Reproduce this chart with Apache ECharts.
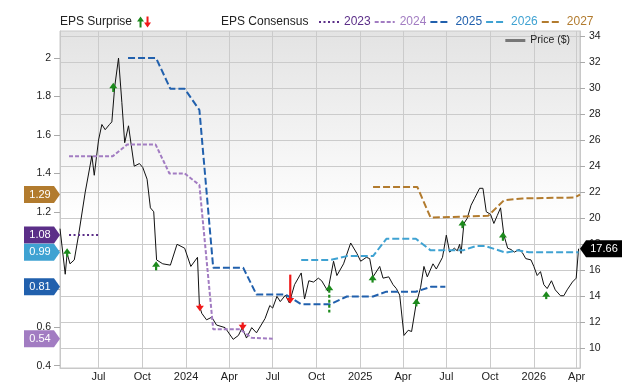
<!DOCTYPE html>
<html><head><meta charset="utf-8">
<script src="https://cdn.jsdelivr.net/npm/echarts@6/dist/echarts.min.js"></script>
<style>html,body{margin:0;padding:0;background:#fff}#c{width:640px;height:382px}</style>
</head><body><div id="c"></div>
<script>
// ---------- data ----------
const xMin = '2023-04-11', xMax = '2026-04-08';
const xTickDates = ['2023-07-01','2023-10-01','2024-01-01','2024-04-01','2024-07-01','2024-10-01','2025-01-01','2025-04-01','2025-07-01','2025-10-01','2026-01-01','2026-04-01'];
const monthNames = ['Jan','Feb','Mar','Apr','May','Jun','Jul','Aug','Sep','Oct','Nov','Dec'];
const epsTicks = [0.4,0.6,0.8,1.0,1.2,1.4,1.6,1.8,2.0];
const priceTicks = [10,12,14,16,18,20,22,24,26,28,30,32,34];

const priceDates = ['2023-04-11','2023-04-22','2023-04-26','2023-05-02','2023-05-11','2023-05-20','2023-06-03','2023-06-17','2023-06-22','2023-07-01','2023-07-08','2023-07-15','2023-07-24','2023-07-29','2023-08-04','2023-08-12','2023-08-19','2023-08-25','2023-09-02','2023-09-14','2023-09-25','2023-10-02','2023-10-11','2023-10-18','2023-10-25','2023-10-31','2023-11-13','2023-11-29','2023-12-13','2023-12-29','2024-01-11','2024-01-25','2024-01-29','2024-02-03','2024-02-13','2024-02-24','2024-03-05','2024-03-23','2024-04-09','2024-04-20','2024-04-28','2024-05-07','2024-05-18','2024-05-28','2024-06-15','2024-06-25','2024-07-01','2024-07-10','2024-07-17','2024-07-28','2024-08-05','2024-08-16','2024-08-30','2024-09-06','2024-09-15','2024-09-25','2024-10-05','2024-10-12','2024-10-25','2024-11-06','2024-11-13','2024-11-27','2024-12-12','2024-12-25','2025-01-02','2025-01-14','2025-01-21','2025-01-28','2025-02-11','2025-02-18','2025-03-02','2025-03-11','2025-03-18','2025-03-25','2025-04-03','2025-04-12','2025-04-19','2025-04-28','2025-05-08','2025-05-15','2025-05-22','2025-06-03','2025-06-10','2025-06-23','2025-07-01','2025-07-08','2025-07-18','2025-07-24','2025-07-29','2025-08-01','2025-08-07','2025-08-14','2025-08-22','2025-08-29','2025-09-09','2025-09-16','2025-09-23','2025-10-02','2025-10-09','2025-10-16','2025-10-23','2025-10-30','2025-11-07','2025-11-14','2025-11-21','2025-12-01','2025-12-08','2025-12-15','2025-12-26','2026-01-01','2026-01-08','2026-01-15','2026-01-22','2026-01-29','2026-02-07','2026-02-15','2026-02-26','2026-03-05','2026-03-12','2026-03-23','2026-03-31','2026-04-05'];
const priceValues = [19.2,15.7,17.3,16.5,16.8,18.7,22.0,24.8,23.3,26.0,27.2,26.8,27.2,27.4,30.1,32.3,28.9,25.8,27.1,24.0,24.2,23.9,23.0,20.8,20.5,16.8,16.5,16.4,18.0,17.7,16.3,17.0,13.3,12.7,12.2,12.4,11.8,11.6,10.7,11.0,11.6,10.8,11.6,11.2,12.3,13.3,13.1,14.0,13.6,14.1,13.5,14.9,15.8,13.8,15.2,15.1,15.4,15.2,14.4,16.7,15.6,16.5,18.1,17.3,16.7,17.0,16.9,15.5,16.3,15.4,15.5,14.9,14.6,14.1,11.0,11.4,11.3,13.3,14.7,16.3,15.5,16.5,16.1,17.0,18.7,17.4,17.7,17.5,18.0,17.3,19.6,20.0,21.0,21.5,22.3,22.3,20.5,20.3,19.6,20.2,20.8,18.7,17.7,17.6,17.4,17.6,17.35,16.9,16.8,16.3,15.6,15.9,14.9,14.6,15.2,14.5,14.05,14.05,14.5,15.1,15.4,17.66];

const c2023Dates = ['2023-04-30','2023-07-01'];
const c2023Values = [1.08,1.08];
const c2024Dates = ['2023-04-30','2023-07-31','2023-08-30','2023-10-29','2023-11-27','2023-12-29','2024-01-29','2024-02-27','2024-04-23','2024-05-18','2024-07-01'];
const c2024Values = [1.49,1.49,1.55,1.55,1.40,1.40,1.34,0.59,0.59,0.545,0.54];
const c2025Dates = ['2023-09-01','2023-10-30','2023-11-29','2023-12-29','2024-01-29','2024-02-27','2024-04-30','2024-05-28','2024-07-28','2024-08-30','2024-10-30','2024-12-04','2025-01-28','2025-02-25','2025-04-28','2025-05-29','2025-06-29'];
const c2025Values = [2.0,2.0,1.84,1.84,1.73,0.91,0.91,0.77,0.77,0.72,0.72,0.76,0.76,0.785,0.785,0.81,0.81];
const c2026Dates = ['2024-08-30','2024-10-30','2024-12-04','2025-01-28','2025-02-25','2025-04-28','2025-05-29','2025-08-05','2025-09-02','2025-09-20','2025-11-03','2025-11-28','2025-12-22','2026-04-05'];
const c2026Values = [0.95,0.95,0.97,0.97,1.06,1.06,1.0,1.0,1.023,1.023,0.988,1.0,0.99,0.99];
const c2027Dates = ['2025-01-28','2025-05-01','2025-05-29','2025-09-27','2025-10-30','2025-12-08','2026-03-28','2026-04-08'];
const c2027Values = [1.33,1.33,1.17,1.18,1.26,1.27,1.275,1.29];

// EPS surprise arrows: date, arrow tip and tail on the price axis
const surpriseDates = ['2023-04-26','2023-08-01','2023-10-30','2024-01-30','2024-04-29','2024-08-07','2024-10-28','2025-01-27','2025-04-29','2025-08-04','2025-10-28','2026-01-27'];
const surpriseTip  = [17.7,30.4,16.7,12.85,11.4,13.46,14.9,15.67,13.84,19.87,18.95,14.4];
const surpriseTail = [17.05,29.7,16.0,13.4,12.0,15.67,12.77,15.06,13.23,19.24,18.27,13.79];
const surpriseDashed = [0,0,0,0,0,0,1,0,0,0,0,0];

// ---------- helpers ----------
function ts(s){const p=s.split('-').map(Number);return new Date(p[0],p[1]-1,p[2]).getTime();}
function zip(d,v){return d.map((x,i)=>[ts(x),v[i]]);}
const FONT = "'Liberation Sans', Arial, sans-serif";
const COLORS = {'2023':'#5b2e88','2024':'#a27cc2','2025':'#2160ad','2026':'#3fa2d2','2027':'#b27b2e'};
const DASH = {'2023':[2,2.5],'2024':[4,2],'2025':[7,3],'2026':[7,3],'2027':[7,3]};
const consensus = {'2023':[c2023Dates,c2023Values],'2024':[c2024Dates,c2024Values],'2025':[c2025Dates,c2025Values],'2026':[c2026Dates,c2026Values],'2027':[c2027Dates,c2027Values]};
const tagRight = 'path://M0,0 L30,0 L36,8.5 L30,17 L0,17 Z';
const tagLeft = 'path://M0,8.5 L6,0 L42,0 L42,17 L6,17 Z';
const upIcon = 'path://M3.5,0 L7,5 L4.5,5 L4.5,11 L2.5,11 L2.5,5 L0,5 Z';
const downIcon = 'path://M2.5,0 L4.5,0 L4.5,6 L7,6 L3.5,11 L0,6 L2.5,6 Z';

const consensusSeries = Object.keys(consensus).map(k=>{
  const d = consensus[k][0], v = consensus[k][1];
  const last = v[v.length-1];
  return {
    name:k, type:'line', yAxisIndex:0, symbol:'none', z:3,
    data: zip(d,v),
    lineStyle:{color:COLORS[k], width:2, type:DASH[k]},
    itemStyle:{color:COLORS[k]},
    markPoint:{
      symbol:tagRight, symbolSize:[36,17], symbolOffset:[-18,0], symbolKeepAspect:false,
      itemStyle:{color:COLORS[k], opacity:1},
      label:{show:true, color:'#fff', fontSize:11, fontFamily:FONT, offset:[-2,0], formatter:()=>last.toFixed(2)},
      data:[{coord:[ts(xMin), last], value:last}]
    }
  };
});

function arrowItem(i){return [ts(surpriseDates[i]), surpriseTip[i], surpriseTail[i], surpriseDashed[i]];}
const upData = [], downData = [];
surpriseDates.forEach((d,i)=>{ (surpriseTip[i] > surpriseTail[i] ? upData : downData).push(arrowItem(i)); });

function renderArrow(params, api){
  const p = api.coord([api.value(0), api.value(1)]);
  const q = api.coord([api.value(0), api.value(2)]);
  const s = q[1] > p[1] ? 1 : -1;
  const hh = 5.5, hw = 4;
  const color = api.visual('color');
  const dashed = api.value(3) === 1;
  return {type:'group', children:[
    {type:'line', shape:{x1:p[0], y1:p[1]+s*(hh-0.5), x2:q[0], y2:q[1]}, style:{stroke:color, lineWidth:2.2, lineDash: dashed ? [3,2] : null}},
    {type:'polygon', shape:{points:[[p[0],p[1]],[p[0]-hw,p[1]+s*hh],[p[0]+hw,p[1]+s*hh]]}, style:{fill:color}}
  ]};
}

const lastPrice = priceValues[priceValues.length-1];
const chart = echarts.init(document.getElementById('c'), null, {renderer:'canvas'});
chart.setOption({
  animation:false,
  textStyle:{fontFamily:FONT},
  title:{text:'EPS Consensus', left:221, top:16, padding:0, textStyle:{fontSize:12, fontWeight:'normal', color:'#222', fontFamily:FONT}},
  legend:[
    {left:60, top:16, padding:0, align:'right', itemWidth:7, itemHeight:11, itemGap:0,
     data:[{name:'EPS Surprise', icon:upIcon},{name:'EPS Miss', icon:downIcon}],
     formatter:n=> n==='EPS Surprise' ? n : '',
     textStyle:{fontSize:12, color:'#222', fontFamily:FONT}},
    {left:318, top:16, padding:0, itemWidth:20, itemHeight:10, itemGap:3,
     itemStyle:{opacity:0}, 
     data:Object.keys(consensus).map(k=>({name:k, textStyle:{color:COLORS[k]}})),
     textStyle:{fontSize:12, fontFamily:FONT}},
    {right:70, top:35, padding:0, itemWidth:20, itemHeight:10, itemGap:3,
     itemStyle:{opacity:0},
     data:['Price ($)'], lineStyle:{color:'#777', width:3},
     textStyle:{fontSize:10.5, color:'#222', fontFamily:FONT}}
  ],
  grid:{left:60, right:60, top:31, bottom:12, show:true, borderColor:'#c8c8c8', borderWidth:1,
    backgroundColor:new echarts.graphic.LinearGradient(0,0,0,1,[{offset:0,color:'#e3e3e3'},{offset:0.56,color:'#ffffff'},{offset:1,color:'#ffffff'}])},
  xAxis:{type:'value', min:ts(xMin), max:ts(xMax),
    axisLine:{show:true, lineStyle:{color:'#c8c8c8'}},
    axisTick:{show:false, customValues:xTickDates.map(ts)},
    axisLabel:{customValues:xTickDates.map(ts), margin:3, fontSize:11, color:'#222', fontFamily:FONT,
      formatter:v=>{const d=new Date(v);return d.getMonth()===0?String(d.getFullYear()):monthNames[d.getMonth()];}},
    splitLine:{show:true, lineStyle:{color:'#cbcbcb', width:1}}},
  yAxis:[
    {type:'value', position:'left', min:0.388, max:2.141,
     axisLine:{show:true, lineStyle:{color:'#c8c8c8'}},
     axisTick:{show:true, length:6, lineStyle:{color:'#aaa'}, customValues:epsTicks},
     axisLabel:{customValues:epsTicks, margin:9, fontSize:10.5, color:'#222', fontFamily:FONT},
     splitLine:{show:false}},
    {type:'value', position:'right', min:8.5, max:34.38,
     axisLine:{show:true, lineStyle:{color:'#c8c8c8'}},
     axisTick:{show:true, length:5, lineStyle:{color:'#aaa'}, customValues:priceTicks},
     axisLabel:{customValues:priceTicks, margin:9, fontSize:10.5, color:'#222', fontFamily:FONT},
     splitLine:{show:true, lineStyle:{color:'#cbcbcb', width:1}}}
  ],
  series:[
    {name:'Price ($)', type:'line', yAxisIndex:1, symbol:'none', z:2,
     data:zip(priceDates, priceValues), lineStyle:{color:'#111', width:1}, itemStyle:{color:'#777'},
     markPoint:{symbol:tagLeft, symbolSize:[42,17], symbolOffset:[21,0], symbolKeepAspect:false,
       itemStyle:{color:'#000', opacity:1},
       label:{show:true, color:'#fff', fontSize:11, fontFamily:FONT, offset:[3,0], formatter:()=>lastPrice.toFixed(2)},
       data:[{coord:[ts(xMax), lastPrice], value:lastPrice}]}}
  ].concat(consensusSeries).concat([
    {name:'EPS Surprise', type:'custom', yAxisIndex:1, z:5, renderItem:renderArrow, itemStyle:{color:'#1c8a1c'}, encode:{x:0,y:1}, data:upData},
    {name:'EPS Miss', type:'custom', yAxisIndex:1, z:5, renderItem:renderArrow, itemStyle:{color:'#f01818'}, encode:{x:0,y:1}, data:downData}
  ])
});
</script></body></html>
